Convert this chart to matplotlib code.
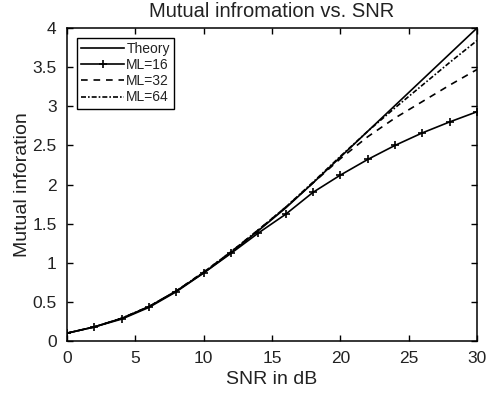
import matplotlib
matplotlib.use("Agg")
import matplotlib.pyplot as plt

snr = [0, 2, 4, 6, 8, 10, 12, 14, 16, 18, 20, 22, 24, 26, 28, 30]
theory = [0.10, 0.18, 0.29, 0.44, 0.64, 0.87, 1.13, 1.41, 1.70, 2.02, 2.35, 2.68, 3.01, 3.34, 3.67, 4.00]
ml16 = [0.10, 0.18, 0.28, 0.43, 0.63, 0.87, 1.12, 1.38, 1.62, 1.90, 2.12, 2.32, 2.50, 2.66, 2.80, 2.93]
ml32 = [0.10, 0.18, 0.29, 0.44, 0.64, 0.88, 1.14, 1.42, 1.71, 2.02, 2.33, 2.61, 2.85, 3.06, 3.27, 3.47]
ml64 = [0.10, 0.18, 0.29, 0.44, 0.64, 0.88, 1.14, 1.42, 1.71, 2.03, 2.36, 2.68, 2.98, 3.27, 3.56, 3.84]

plt.rcParams["font.family"] = ["Liberation Sans", "DejaVu Sans"]
txt = "#222222"

fig = plt.figure(figsize=(4.97, 3.98), dpi=100)
ax = fig.add_axes([0.1348, 0.1432, 0.8250, 0.7864])

ax.plot(snr, theory, color="black", lw=1.2, label="Theory")
ax.plot(snr, ml16, color="black", lw=1.2, marker="+", ms=6, mew=1.2, label="ML=16")
ax.plot(snr, ml32, color="black", lw=1.2, dashes=(4, 3.5), label="ML=32")
ax.plot(snr, ml64, color="black", lw=1.2, dashes=(3, 1.2, 1, 1.2), label="ML=64")

ax.set_xlim(0, 30)
ax.set_ylim(0, 4)
ax.set_xticks([0, 5, 10, 15, 20, 25, 30])
ax.set_yticks([0, 0.5, 1, 1.5, 2, 2.5, 3, 3.5, 4])
ax.set_yticklabels(["0", "0.5", "1", "1.5", "2", "2.5", "3", "3.5", "4"])
ax.tick_params(direction="in", top=True, right=True, length=4, width=1.0,
               labelsize=12.5, colors="black", labelcolor=txt, pad=7.5)
for s in ax.spines.values():
    s.set_linewidth(1.1)

ax.set_title("Mutual infromation vs. SNR", fontsize=14.5, color=txt, pad=8)
ax.set_xlabel("SNR in dB", fontsize=14, color=txt, labelpad=3)
ax.set_ylabel("Mutual inforation", fontsize=14, color=txt, labelpad=1)

leg = ax.legend(loc="upper left", fontsize=10, handlelength=3.1, handletextpad=0.15,
                borderpad=0.3, labelspacing=0.15, borderaxespad=0.72, fancybox=False,
                framealpha=1, edgecolor="black")
leg.get_frame().set_linewidth(1.0)
for t in leg.get_texts():
    t.set_color(txt)

fig.savefig("out.png", dpi=100)
